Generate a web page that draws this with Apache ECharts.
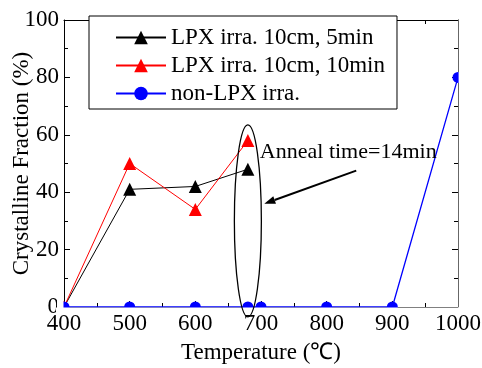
<!DOCTYPE html>
<html><head><meta charset="utf-8">
<script src="https://cdn.jsdelivr.net/npm/echarts@6/dist/echarts.min.js"></script>
<style>html,body{margin:0;padding:0;background:#fff}#c{width:482px;height:368px}</style>
</head><body><div id="c"></div>
<script>
const seriesNames = ['LPX irra. 10cm, 5min', 'LPX irra. 10cm, 10min', 'non-LPX irra.'];
const tempLPX = [400, 500, 600, 680];
const fraction5min = [0, 41, 42, 48];
const fraction10min = [0, 50, 34, 58];
const tempNon = [400, 500, 600, 680, 700, 800, 900, 1000];
const fractionNon = [0, 0, 0, 0, 0, 0, 0, 80];
const annotationText = 'Anneal time=14min';
const xTitle = 'Temperature (\u2103)';
const yTitle = 'Crystalline Fraction (%)';

const FONT = "'Liberation Serif', 'Times New Roman', serif";
const zip = (xs, ys) => xs.map((x, i) => [x, ys[i]]);

const chart = echarts.init(document.getElementById('c'), null, {renderer: 'canvas'});
const axisCommon = {
  axisLine: {show: true, onZero: false, lineStyle: {color: '#000', width: 1}},
  axisTick: {show: true, inside: true, length: 6, lineStyle: {color: '#000'}},
  minorTick: {show: true, splitNumber: 2, length: 4, lineStyle: {color: '#000'}},
  splitLine: {show: false},
  minorSplitLine: {show: false}
};
const labelStyle = {color: '#000', fontFamily: FONT, fontSize: 23, formatter: v => String(v)};
chart.setOption({
  animation: false,
  backgroundColor: '#fff',
  grid: {left: 64, right: 24, top: 20, bottom: 61, containLabel: false, outerBoundsMode: 'none'},
  legend: {
    orient: 'vertical', left: 89, top: 16,
    padding: [10, 12, 4, 26],
    itemGap: 5, itemWidth: 50, itemHeight: 17,
    borderColor: '#000', borderWidth: 1, borderRadius: 0,
    backgroundColor: '#fff',
    textStyle: {color: '#000', fontFamily: FONT, fontSize: 23, lineHeight: 23},
    data: seriesNames
  },
  xAxis: [
    Object.assign({type: 'value', min: 400, max: 1000, interval: 100, position: 'bottom',
      axisLabel: Object.assign({margin: 5}, labelStyle),
      name: xTitle, nameLocation: 'middle', nameGap: 34, nameMoveOverlap: false,
      nameTextStyle: {color: '#000', fontFamily: FONT, fontSize: 23}}, axisCommon),
    Object.assign({type: 'value', min: 400, max: 1000, interval: 100, position: 'top',
      axisLabel: {show: false}}, axisCommon)
  ],
  yAxis: [
    Object.assign({type: 'value', min: 0, max: 100, interval: 20, position: 'left',
      axisLabel: Object.assign({margin: 5}, labelStyle),
      name: yTitle, nameLocation: 'middle', nameGap: 31, nameRotate: 90, nameMoveOverlap: false,
      nameTextStyle: {color: '#000', fontFamily: FONT, fontSize: 23}}, axisCommon),
    Object.assign({type: 'value', min: 0, max: 100, interval: 20, position: 'right',
      axisLabel: {show: false}}, axisCommon)
  ],
  series: [
    {name: seriesNames[0], type: 'line', data: zip(tempLPX, fraction5min),
     symbol: 'triangle', symbolSize: 13, color: '#000',
     lineStyle: {color: '#000', width: 1}, itemStyle: {color: '#000'}},
    {name: seriesNames[1], type: 'line', data: zip(tempLPX, fraction10min),
     symbol: 'triangle', symbolSize: 13, color: '#ff0000',
     lineStyle: {color: '#ff0000', width: 1}, itemStyle: {color: '#ff0000'}},
    {name: seriesNames[2], type: 'line', data: zip(tempNon, fractionNon),
     symbol: 'circle', symbolSize: 11, color: '#0000ff',
     lineStyle: {color: '#0000ff', width: 1.3}, itemStyle: {color: '#0000ff'}}
  ]
});

function px(x, y) { return chart.convertToPixel({xAxisIndex: 0, yAxisIndex: 0}, [x, y]); }
const origin = px(400, 0);
const corner = px(1000, 100);
const ellC = px(680, 30);
const arrowTip = px(705, 36);
const arrowTail = px(845, 47.5);
const textPos = px(680, 54);
const dx = arrowTip[0] - arrowTail[0], dy = arrowTip[1] - arrowTail[1];
const L = Math.hypot(dx, dy), ux = dx / L, uy = dy / L;
const headLen = 11, headW = 4;
const bx = arrowTip[0] - ux * headLen, by = arrowTip[1] - uy * headLen;
chart.setOption({
  graphic: [
    {type: 'rect', z: 5, silent: true,
     shape: {x: origin[0] - 8, y: origin[1] + 0.6, width: corner[0] - origin[0] + 16, height: 7},
     style: {fill: '#fff'}},
    {type: 'rect', z: 5, silent: true,
     shape: {x: origin[0] - 7, y: origin[1] - 8, width: 6.5, height: 16},
     style: {fill: '#fff'}},
    {type: 'rect', z: 5, silent: true,
     shape: {x: corner[0] + 0.6, y: corner[1], width: 10, height: origin[1] - corner[1] + 8},
     style: {fill: '#fff'}},
    {type: 'ellipse', z: 6, silent: true,
     shape: {cx: ellC[0], cy: ellC[1], rx: 13.5, ry: 96},
     style: {fill: 'none', stroke: '#000', lineWidth: 1.3}},
    {type: 'line', z: 6, silent: true,
     shape: {x1: arrowTail[0], y1: arrowTail[1], x2: bx, y2: by},
     style: {stroke: '#000', lineWidth: 2}},
    {type: 'polygon', z: 6, silent: true,
     shape: {points: [arrowTip, [bx - uy * headW, by + ux * headW], [bx + uy * headW, by - ux * headW]]},
     style: {fill: '#000'}},
    {type: 'text', z: 6, silent: true, x: textPos[0] + 12, y: textPos[1],
     style: {text: annotationText, fontFamily: FONT, fontSize: 22, fill: '#000',
             verticalAlign: 'middle', align: 'left'}}
  ]
});
</script></body></html>
